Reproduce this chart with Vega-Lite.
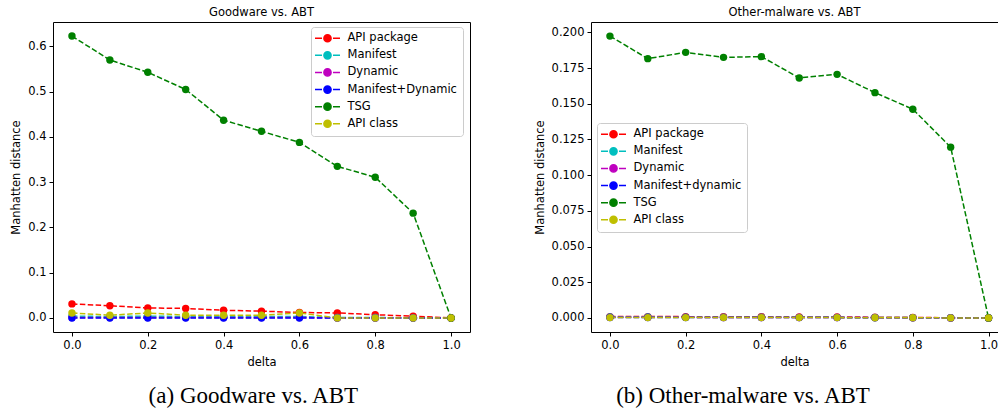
{
  "$schema": "https://vega.github.io/schema/vega-lite/v6.json",
  "padding": {"left": 10, "top": 6, "right": 0, "bottom": 0},
  "background": "white",
  "config": {
    "view": {"stroke": "black", "strokeWidth": 1},
    "axis": {
      "domain": false, "grid": false, "tickColor": "black", "tickSize": 4, "tickWidth": 1,
      "labelFont": "DejaVu Sans", "labelFontSize": 11.5, "labelColor": "black", "labelPadding": 3,
      "titleFont": "DejaVu Sans", "titleFontSize": 11.5, "titleFontWeight": "normal", "titleColor": "black",
      "labelFlush": false, "labelOverlap": false
    },
    "title": {"font": "DejaVu Sans", "fontSize": 11.5, "fontWeight": "normal", "color": "black", "offset": 4},
    "legend": {
      "title": null, "labelFont": "DejaVu Sans", "labelFontSize": 11.5, "labelColor": "black",
      "strokeColor": "#cccccc", "fillColor": "rgba(255,255,255,0.8)", "cornerRadius": 3, "padding": 5.5,
      "rowPadding": 3.1, "symbolSize": 64, "symbolStrokeWidth": 1.5, "labelOffset": 22,
      "symbolType": "M-3.125,0H-1.375M1.375,0H3.125M-0.9,0A0.9,0.9,0,1,1,0.9,0A0.9,0.9,0,1,1,-0.9,0Z"
    }
  },
  "datasets": {
    "goodware": [
      {"delta": 0.0, "series": "API package", "value": 0.031},
      {"delta": 0.1, "series": "API package", "value": 0.027},
      {"delta": 0.2, "series": "API package", "value": 0.022},
      {"delta": 0.3, "series": "API package", "value": 0.021},
      {"delta": 0.4, "series": "API package", "value": 0.017},
      {"delta": 0.5, "series": "API package", "value": 0.015},
      {"delta": 0.6, "series": "API package", "value": 0.012},
      {"delta": 0.7, "series": "API package", "value": 0.011},
      {"delta": 0.8, "series": "API package", "value": 0.007},
      {"delta": 0.9, "series": "API package", "value": 0.004},
      {"delta": 1.0, "series": "API package", "value": 0.0},
      {"delta": 0.0, "series": "Manifest", "value": 0.004},
      {"delta": 0.1, "series": "Manifest", "value": 0.003},
      {"delta": 0.2, "series": "Manifest", "value": 0.004},
      {"delta": 0.3, "series": "Manifest", "value": 0.003},
      {"delta": 0.4, "series": "Manifest", "value": 0.003},
      {"delta": 0.5, "series": "Manifest", "value": 0.003},
      {"delta": 0.6, "series": "Manifest", "value": 0.003},
      {"delta": 0.7, "series": "Manifest", "value": 0.001},
      {"delta": 0.8, "series": "Manifest", "value": 0.001},
      {"delta": 0.9, "series": "Manifest", "value": 0.0},
      {"delta": 1.0, "series": "Manifest", "value": 0.0},
      {"delta": 0.0, "series": "Dynamic", "value": 0.001},
      {"delta": 0.1, "series": "Dynamic", "value": 0.001},
      {"delta": 0.2, "series": "Dynamic", "value": 0.001},
      {"delta": 0.3, "series": "Dynamic", "value": 0.001},
      {"delta": 0.4, "series": "Dynamic", "value": 0.001},
      {"delta": 0.5, "series": "Dynamic", "value": 0.001},
      {"delta": 0.6, "series": "Dynamic", "value": 0.001},
      {"delta": 0.7, "series": "Dynamic", "value": 0.0},
      {"delta": 0.8, "series": "Dynamic", "value": 0.0},
      {"delta": 0.9, "series": "Dynamic", "value": 0.0},
      {"delta": 1.0, "series": "Dynamic", "value": 0.0},
      {"delta": 0.0, "series": "Manifest+Dynamic", "value": 0.0},
      {"delta": 0.1, "series": "Manifest+Dynamic", "value": 0.0},
      {"delta": 0.2, "series": "Manifest+Dynamic", "value": 0.0},
      {"delta": 0.3, "series": "Manifest+Dynamic", "value": 0.0},
      {"delta": 0.4, "series": "Manifest+Dynamic", "value": 0.0},
      {"delta": 0.5, "series": "Manifest+Dynamic", "value": 0.0},
      {"delta": 0.6, "series": "Manifest+Dynamic", "value": 0.0},
      {"delta": 0.7, "series": "Manifest+Dynamic", "value": 0.0},
      {"delta": 0.8, "series": "Manifest+Dynamic", "value": 0.0},
      {"delta": 0.9, "series": "Manifest+Dynamic", "value": 0.0},
      {"delta": 1.0, "series": "Manifest+Dynamic", "value": 0.0},
      {"delta": 0.0, "series": "TSG", "value": 0.623},
      {"delta": 0.1, "series": "TSG", "value": 0.570},
      {"delta": 0.2, "series": "TSG", "value": 0.543},
      {"delta": 0.3, "series": "TSG", "value": 0.505},
      {"delta": 0.4, "series": "TSG", "value": 0.437},
      {"delta": 0.5, "series": "TSG", "value": 0.4125},
      {"delta": 0.6, "series": "TSG", "value": 0.388},
      {"delta": 0.7, "series": "TSG", "value": 0.335},
      {"delta": 0.8, "series": "TSG", "value": 0.311},
      {"delta": 0.9, "series": "TSG", "value": 0.2316},
      {"delta": 1.0, "series": "TSG", "value": 0.0},
      {"delta": 0.0, "series": "API class", "value": 0.011},
      {"delta": 0.1, "series": "API class", "value": 0.006},
      {"delta": 0.2, "series": "API class", "value": 0.011},
      {"delta": 0.3, "series": "API class", "value": 0.006},
      {"delta": 0.4, "series": "API class", "value": 0.006},
      {"delta": 0.5, "series": "API class", "value": 0.006},
      {"delta": 0.6, "series": "API class", "value": 0.011},
      {"delta": 0.7, "series": "API class", "value": 0.0},
      {"delta": 0.8, "series": "API class", "value": 0.0},
      {"delta": 0.9, "series": "API class", "value": 0.0},
      {"delta": 1.0, "series": "API class", "value": 0.0}
    ],
    "othermalware": [
      {"delta": 0.0, "series": "API package", "value": 0.0009},
      {"delta": 0.1, "series": "API package", "value": 0.0009},
      {"delta": 0.2, "series": "API package", "value": 0.0009},
      {"delta": 0.3, "series": "API package", "value": 0.0008},
      {"delta": 0.4, "series": "API package", "value": 0.0008},
      {"delta": 0.5, "series": "API package", "value": 0.0007},
      {"delta": 0.6, "series": "API package", "value": 0.0007},
      {"delta": 0.7, "series": "API package", "value": 0.0005},
      {"delta": 0.8, "series": "API package", "value": 0.0004},
      {"delta": 0.9, "series": "API package", "value": 0.0001},
      {"delta": 1.0, "series": "API package", "value": 0.0},
      {"delta": 0.0, "series": "Manifest", "value": 0.0006},
      {"delta": 0.1, "series": "Manifest", "value": 0.0006},
      {"delta": 0.2, "series": "Manifest", "value": 0.0005},
      {"delta": 0.3, "series": "Manifest", "value": 0.0005},
      {"delta": 0.4, "series": "Manifest", "value": 0.0005},
      {"delta": 0.5, "series": "Manifest", "value": 0.0004},
      {"delta": 0.6, "series": "Manifest", "value": 0.0004},
      {"delta": 0.7, "series": "Manifest", "value": 0.0003},
      {"delta": 0.8, "series": "Manifest", "value": 0.0002},
      {"delta": 0.9, "series": "Manifest", "value": 0.0001},
      {"delta": 1.0, "series": "Manifest", "value": 0.0},
      {"delta": 0.0, "series": "Dynamic", "value": 0.0004},
      {"delta": 0.1, "series": "Dynamic", "value": 0.0004},
      {"delta": 0.2, "series": "Dynamic", "value": 0.0004},
      {"delta": 0.3, "series": "Dynamic", "value": 0.0003},
      {"delta": 0.4, "series": "Dynamic", "value": 0.0003},
      {"delta": 0.5, "series": "Dynamic", "value": 0.0003},
      {"delta": 0.6, "series": "Dynamic", "value": 0.0003},
      {"delta": 0.7, "series": "Dynamic", "value": 0.0002},
      {"delta": 0.8, "series": "Dynamic", "value": 0.0001},
      {"delta": 0.9, "series": "Dynamic", "value": 0.0},
      {"delta": 1.0, "series": "Dynamic", "value": 0.0},
      {"delta": 0.0, "series": "Manifest+dynamic", "value": 0.0003},
      {"delta": 0.1, "series": "Manifest+dynamic", "value": 0.0003},
      {"delta": 0.2, "series": "Manifest+dynamic", "value": 0.0003},
      {"delta": 0.3, "series": "Manifest+dynamic", "value": 0.0002},
      {"delta": 0.4, "series": "Manifest+dynamic", "value": 0.0002},
      {"delta": 0.5, "series": "Manifest+dynamic", "value": 0.0002},
      {"delta": 0.6, "series": "Manifest+dynamic", "value": 0.0002},
      {"delta": 0.7, "series": "Manifest+dynamic", "value": 0.0001},
      {"delta": 0.8, "series": "Manifest+dynamic", "value": 0.0001},
      {"delta": 0.9, "series": "Manifest+dynamic", "value": 0.0},
      {"delta": 1.0, "series": "Manifest+dynamic", "value": 0.0},
      {"delta": 0.0, "series": "TSG", "value": 0.1974},
      {"delta": 0.1, "series": "TSG", "value": 0.1816},
      {"delta": 0.2, "series": "TSG", "value": 0.1860},
      {"delta": 0.3, "series": "TSG", "value": 0.1825},
      {"delta": 0.4, "series": "TSG", "value": 0.1830},
      {"delta": 0.5, "series": "TSG", "value": 0.1681},
      {"delta": 0.6, "series": "TSG", "value": 0.1706},
      {"delta": 0.7, "series": "TSG", "value": 0.1578},
      {"delta": 0.8, "series": "TSG", "value": 0.1462},
      {"delta": 0.9, "series": "TSG", "value": 0.1196},
      {"delta": 1.0, "series": "TSG", "value": 0.0},
      {"delta": 0.0, "series": "API class", "value": 0.0002},
      {"delta": 0.1, "series": "API class", "value": 0.0002},
      {"delta": 0.2, "series": "API class", "value": 0.0002},
      {"delta": 0.3, "series": "API class", "value": 0.0002},
      {"delta": 0.4, "series": "API class", "value": 0.0002},
      {"delta": 0.5, "series": "API class", "value": 0.0002},
      {"delta": 0.6, "series": "API class", "value": 0.0002},
      {"delta": 0.7, "series": "API class", "value": 0.0001},
      {"delta": 0.8, "series": "API class", "value": 0.0001},
      {"delta": 0.9, "series": "API class", "value": 0.0},
      {"delta": 1.0, "series": "API class", "value": 0.0}
    ]
  },
  "resolve": {"scale": {"color": "independent"}, "legend": {"color": "independent"}},
  "spacing": 62,
  "hconcat": [
    {
      "title": {"text": "(a) Goodware vs. ABT", "orient": "bottom", "anchor": "middle", "dx": 13, "font": "Liberation Serif", "fontSize": 23, "offset": 16},
      "vconcat": [
        {
          "title": "Goodware vs. ABT",
          "width": 417,
          "height": 310,
          "data": {"name": "goodware"},
          "encoding": {
            "x": {"field": "delta", "type": "quantitative", "scale": {"domain": [-0.05, 1.05], "nice": false, "zero": false},
              "axis": {"title": "delta", "values": [0, 0.2, 0.4, 0.6, 0.8, 1.0], "format": ".1f", "titlePadding": 6}},
            "y": {"field": "value", "type": "quantitative", "scale": {"domain": [-0.0311, 0.6541], "nice": false, "zero": false},
              "axis": {"title": "Manhatten distance", "values": [0, 0.1, 0.2, 0.3, 0.4, 0.5, 0.6], "format": ".1f", "titlePadding": 6}},
            "color": {"field": "series", "type": "nominal",
              "scale": {"domain": ["API package", "Manifest", "Dynamic", "Manifest+Dynamic", "TSG", "API class"],
                "range": ["#ff0000", "#00bfbf", "#bf00bf", "#0000ff", "#008000", "#bfbf00"]},
              "legend": {"orient": "none", "legendX": 258, "legendY": 5,
                "encode": {
                  "symbols": {"update": {
                    "x": {"value": 11},
                    "fill": {"signal": "['#ff0000','#00bfbf','#bf00bf','#0000ff','#008000','#bfbf00'][datum.index]"},
                    "stroke": {"signal": "['#ff0000','#00bfbf','#bf00bf','#0000ff','#008000','#bfbf00'][datum.index]"},
                    "opacity": {"value": 1}}},
                  "labels": {"update": {"x": {"value": 31}}}}}}
          },
          "layer": [
            {"mark": {"type": "line", "strokeWidth": 1.5, "strokeDash": [5.5, 2.4]}},
            {"mark": {"type": "point", "filled": true, "size": 55, "opacity": 1, "shape": "circle"}}
          ]
        }
      ]
    },
    {
      "title": {"text": "(b) Other-malware vs. ABT", "orient": "bottom", "anchor": "middle", "dx": -23, "font": "Liberation Serif", "fontSize": 23, "offset": 16},
      "vconcat": [
        {
          "title": "Other-malware vs. ABT",
          "width": 407,
          "height": 310,
          "data": {"name": "othermalware"},
          "encoding": {
            "x": {"field": "delta", "type": "quantitative", "scale": {"domain": [-0.05, 1.025], "nice": false, "zero": false},
              "axis": {"title": "delta", "values": [0, 0.2, 0.4, 0.6, 0.8, 1.0], "format": ".1f", "titlePadding": 6}},
            "y": {"field": "value", "type": "quantitative", "scale": {"domain": [-0.00987, 0.20727], "nice": false, "zero": false},
              "axis": {"title": "Manhatten distance", "values": [0, 0.025, 0.05, 0.075, 0.1, 0.125, 0.15, 0.175, 0.2], "format": ".3f", "titlePadding": 6}},
            "color": {"field": "series", "type": "nominal",
              "scale": {"domain": ["API package", "Manifest", "Dynamic", "Manifest+dynamic", "TSG", "API class"],
                "range": ["#ff0000", "#00bfbf", "#bf00bf", "#0000ff", "#008000", "#bfbf00"]},
              "legend": {"orient": "none", "legendX": 6, "legendY": 101,
                "encode": {
                  "symbols": {"update": {
                    "x": {"value": 11},
                    "fill": {"signal": "['#ff0000','#00bfbf','#bf00bf','#0000ff','#008000','#bfbf00'][datum.index]"},
                    "stroke": {"signal": "['#ff0000','#00bfbf','#bf00bf','#0000ff','#008000','#bfbf00'][datum.index]"},
                    "opacity": {"value": 1}}},
                  "labels": {"update": {"x": {"value": 31}}}}}}
          },
          "layer": [
            {"mark": {"type": "line", "strokeWidth": 1.5, "strokeDash": [5.5, 2.4]}},
            {"mark": {"type": "point", "filled": true, "size": 55, "opacity": 1, "shape": "circle"}}
          ]
        }
      ]
    }
  ]
}
